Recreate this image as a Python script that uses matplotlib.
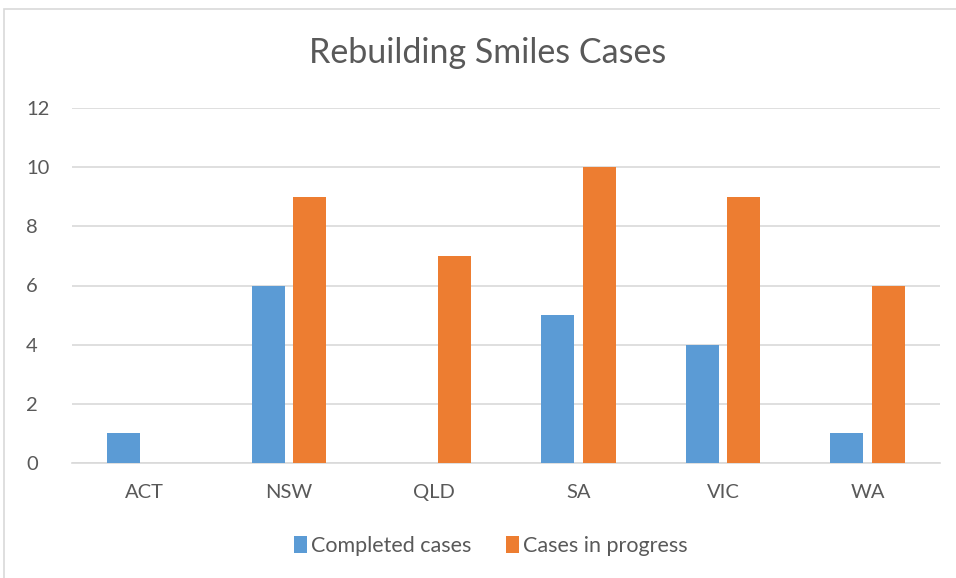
import matplotlib
matplotlib.use("Agg")
import matplotlib.pyplot as plt
from matplotlib.patches import Rectangle
import numpy as np

categories = ["ACT", "NSW", "QLD", "SA", "VIC", "WA"]
completed = [1, 6, 0, 5, 4, 1]
in_progress = [0, 9, 7, 10, 9, 6]
series_names = ["Completed cases", "Cases in progress"]
yticks = [0, 2, 4, 6, 8, 10, 12]

W, H = 956, 578
fig = plt.figure(figsize=(W / 100, H / 100), dpi=100)
plt.rcParams['font.family'] = ['Lato', 'DejaVu Sans']

# outer chart border (top and left visible)
fig.patches.append(Rectangle((4 / W, -0.1), 1.2, 1.1 - 9 / H, transform=fig.transFigure,
                             fill=False, edgecolor="#d9d9d9", linewidth=1.2))

left, right, top, bottom = 72, 940, 108, 463
ax = fig.add_axes([left / W, 1 - bottom / H, (right - left) / W, (bottom - top) / H])

x = np.arange(len(categories))
bw = 0.228
off = 0.145
c1, c2 = "#5B9BD5", "#ED7D31"
b1 = ax.bar(x - off, completed, bw, color=c1, label=series_names[0], zorder=3)
b2 = ax.bar(x + off, in_progress, bw, color=c2, label=series_names[1], zorder=3)

ax.set_xlim(-0.5, len(categories) - 0.5)
ax.set_ylim(0, 12)
ax.set_yticks(yticks)
ax.set_xticks(x)
ax.set_xticklabels(categories)
ax.grid(axis="y", color="#d9d9d9", linewidth=1.2, zorder=0)
for s in ["top", "right", "left"]:
    ax.spines[s].set_visible(False)
ax.spines["bottom"].set_color("#d9d9d9")
ax.spines["bottom"].set_linewidth(1.2)
ax.tick_params(length=0, labelsize=14.5, colors="#595959", pad=12)
ax.tick_params(axis="x", pad=15)
ax.tick_params(axis="y", pad=33)
for lab in ax.get_yticklabels():
    lab.set_horizontalalignment("left")

fig.text(488 / W, 1 - 53 / H, "Rebuilding Smiles Cases", ha="center", va="center",
         fontsize=24.5, color="#595959")

leg = fig.legend(handles=[b1, b2], loc="center", bbox_to_anchor=(491 / W, 1 - 546 / H),
                 ncol=2, frameon=False, fontsize=15.5, handlelength=0.6, handleheight=0.8,
                 handletextpad=0.2, columnspacing=1.6)
for t in leg.get_texts():
    t.set_color("#595959")

fig.savefig("out.png", dpi=100)
